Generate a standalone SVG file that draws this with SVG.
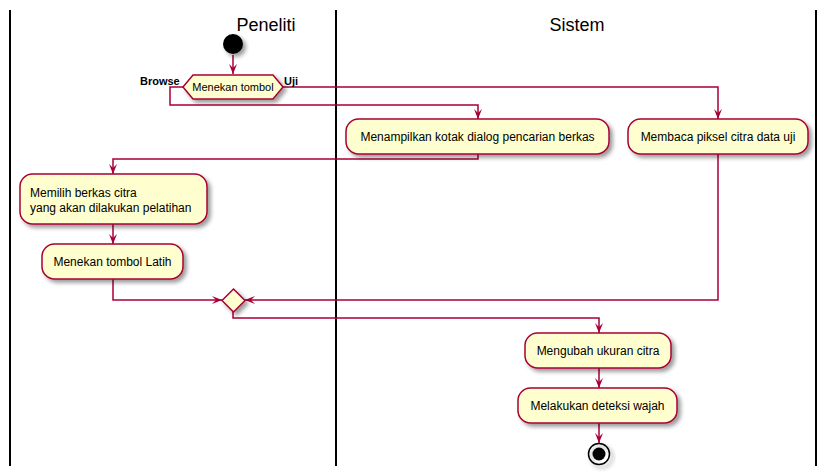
<svg xmlns="http://www.w3.org/2000/svg" width="827" height="474" viewBox="0 0 827 474">
<defs>
<filter id="sh" x="-20%" y="-20%" width="150%" height="160%">
<feGaussianBlur in="SourceAlpha" stdDeviation="2"/>
<feOffset dx="3" dy="3" result="b"/>
<feComponentTransfer><feFuncA type="linear" slope="0.4"/></feComponentTransfer>
<feMerge><feMergeNode/><feMergeNode in="SourceGraphic"/></feMerge>
</filter>
<marker id="ah" viewBox="0 0 10 8" refX="10" refY="4" markerWidth="10" markerHeight="8" markerUnits="userSpaceOnUse" orient="auto">
<path d="M0,0 L10,4 L0,8 L4,4 Z" fill="#A80036"/>
</marker>
</defs>
<style>
.act{fill:#FEFECE;stroke:#A80036;stroke-width:1.5;filter:url(#sh)}
.t{font-family:"Liberation Sans",Arial,sans-serif;font-size:12px;fill:#000}
.c{fill:none;stroke:#A80036;stroke-width:1.5}
.lane{stroke:#000;stroke-width:2}
.title{font-family:"Liberation Sans",Arial,sans-serif;font-size:18px;fill:#000;text-anchor:middle}
.lbl{font-family:"Liberation Sans",Arial,sans-serif;font-size:11px;font-weight:bold;fill:#000}
</style>
<rect width="827" height="474" fill="#fff"/>
<g id="lanes">
<line class="lane" x1="10" y1="10" x2="10" y2="466"/>
<line class="lane" x1="336" y1="10" x2="336" y2="466"/>
<line class="lane" x1="816" y1="10" x2="816" y2="466"/>
<text class="title" x="266" y="31">Peneliti</text>
<text class="title" x="577" y="31">Sistem</text>
</g>
<g id="connectors">
<path class="c" d="M233,55 L233,74" marker-end="url(#ah)"/>
<path class="c" d="M183,87 L170,87 L170,105 L478,105 L478,119" marker-end="url(#ah)"/>
<path class="c" d="M283,87 L718,87 L718,119" marker-end="url(#ah)"/>
<path class="c" d="M478,154 L478,159 L113,159 L113,174" marker-end="url(#ah)"/>
<path class="c" d="M113,224 L113,244" marker-end="url(#ah)"/>
<path class="c" d="M113,279 L113,300 L222,300" marker-end="url(#ah)"/>
<path class="c" d="M718,154 L718,300 L245,300" marker-end="url(#ah)"/>
<path class="c" d="M233,312 L233,318 L599,318 L599,333" marker-end="url(#ah)"/>
<path class="c" d="M599,368 L599,388" marker-end="url(#ah)"/>
<path class="c" d="M599,423 L599,443" marker-end="url(#ah)"/>
<text class="lbl" x="140" y="85">Browse</text>
<text class="lbl" x="284" y="85">Uji</text>
</g>
<g id="start">
<circle cx="233" cy="44" r="10" fill="#000" filter="url(#sh)"/>
</g>
<g id="decision">
<polygon class="act" points="183,87 193,75 273,75 283,87 273,99 193,99"/>
<text class="t" x="233" y="91" font-size="11" style="font-size:11px" text-anchor="middle">Menekan tombol</text>
</g>
<g id="dialog">
<rect class="act" x="346" y="119" width="263" height="35" rx="12.5"/>
<text class="t" x="477.5" y="141" text-anchor="middle">Menampilkan kotak dialog pencarian berkas</text>
</g>
<g id="baca">
<rect class="act" x="628" y="119" width="180" height="35" rx="12.5"/>
<text class="t" x="718" y="141" text-anchor="middle">Membaca piksel citra data uji</text>
</g>
<g id="pilih">
<rect class="act" x="20" y="174" width="187" height="50" rx="12.5"/>
<text class="t" x="30" y="197">Memilih berkas citra</text>
<text class="t" x="30" y="212">yang akan dilakukan pelatihan</text>
</g>
<g id="latih">
<rect class="act" x="42" y="244" width="141" height="35" rx="12.5"/>
<text class="t" x="112.5" y="266" text-anchor="middle">Menekan tombol Latih</text>
</g>
<g id="merge">
<polygon class="act" points="233.5,289 245,300.5 233.5,312 222,300.5"/>
</g>
<g id="ubah">
<rect class="act" x="525" y="333" width="146" height="35" rx="12.5"/>
<text class="t" x="598" y="355" text-anchor="middle">Mengubah ukuran citra</text>
</g>
<g id="deteksi">
<rect class="act" x="518" y="388" width="159" height="35" rx="12.5"/>
<text class="t" x="597.5" y="410" text-anchor="middle">Melakukan deteksi wajah</text>
</g>
<g id="end">
<circle cx="599" cy="454" r="10.5" fill="none" stroke="#000" stroke-width="1.5" filter="url(#sh)"/>
<circle cx="599" cy="454" r="6.5" fill="#000"/>
</g>
</svg>
